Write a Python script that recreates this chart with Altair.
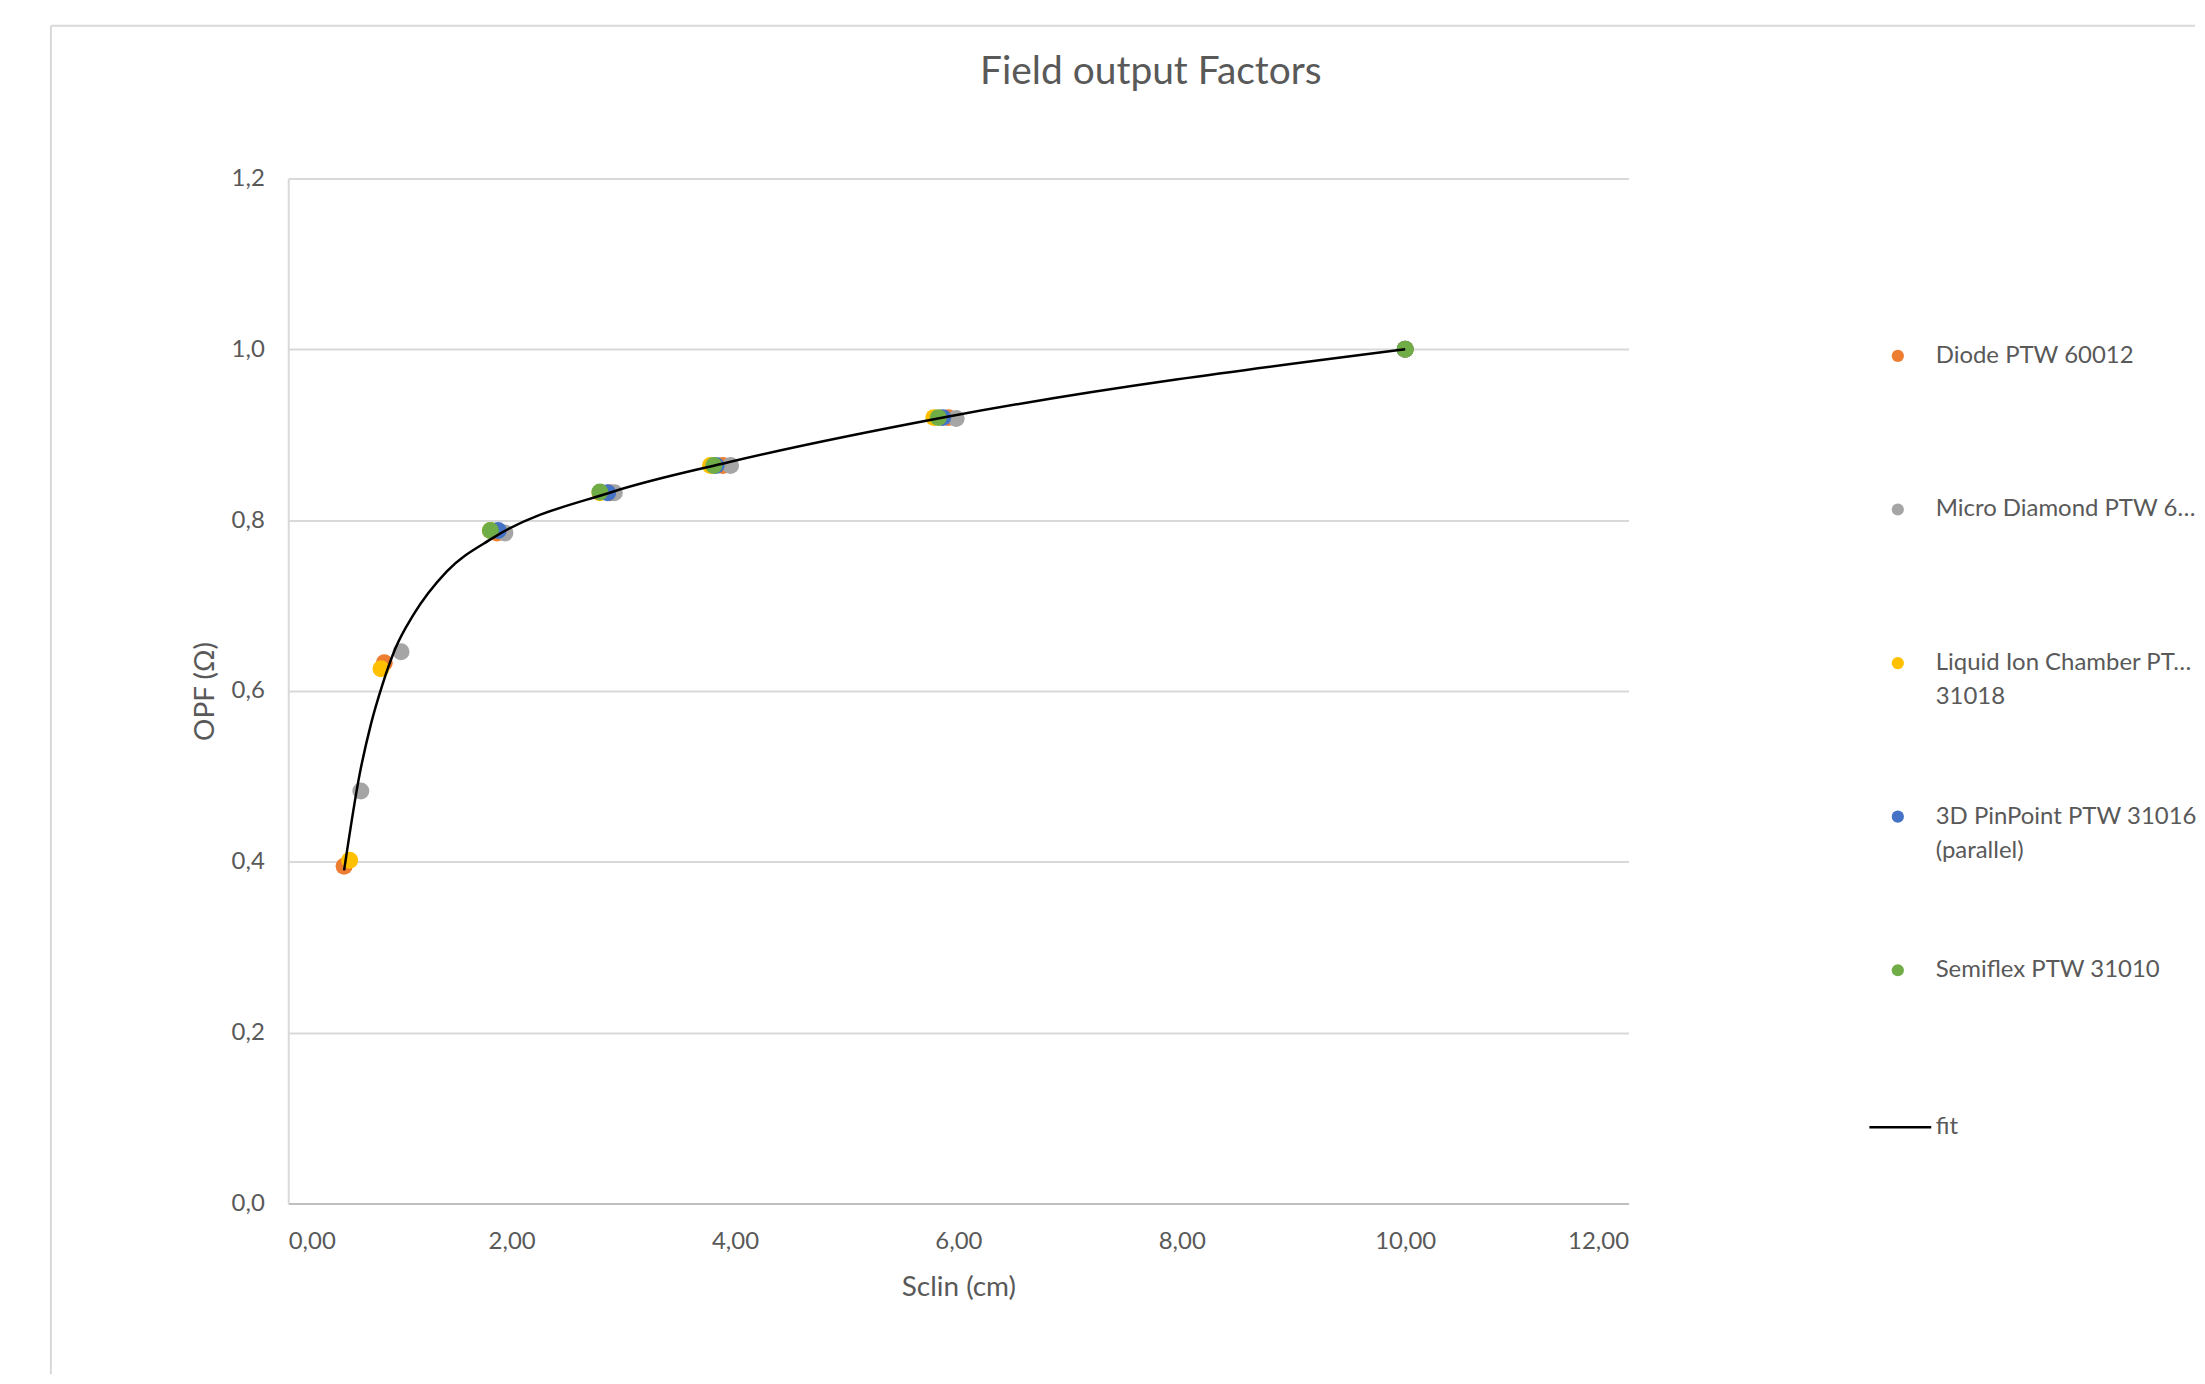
import altair as alt
import pandas as pd

# ---- data ----
series_names = [
    "Diode PTW 60012",
    "Micro Diamond PTW 60019",
    "Liquid Ion Chamber PTW 31018",
    "3D PinPoint PTW 31016 (parallel)",
    "Semiflex PTW 31010",
]
series_colors = ["#ED7D31", "#A5A5A5", "#FFC000", "#4472C4", "#70AD47"]

diode_x = [0.50, 0.86, 1.87, 2.88, 3.89, 5.91, 10.0]
diode_y = [0.395, 0.633, 0.785, 0.832, 0.864, 0.920, 1.0]

diamond_x = [0.65, 1.01, 1.94, 2.92, 3.96, 5.98, 10.0]
diamond_y = [0.483, 0.646, 0.785, 0.832, 0.864, 0.919, 1.0]

liquid_x = [0.55, 0.83, 1.81, 2.79, 3.78, 5.78, 10.0]
liquid_y = [0.402, 0.626, 0.788, 0.832, 0.864, 0.920, 1.0]

pinpoint_x = [1.88, 2.86, 3.83, 5.86, 10.0]
pinpoint_y = [0.788, 0.832, 0.864, 0.920, 1.0]

semiflex_x = [1.81, 2.79, 3.81, 5.82, 10.0]
semiflex_y = [0.788, 0.833, 0.864, 0.920, 1.0]

fit_x = [0.50, 0.64, 0.74, 0.84, 0.96, 1.12, 1.42, 1.83, 2.90, 3.95, 5.90, 10.0]
fit_y = [0.390, 0.503, 0.561, 0.606, 0.650, 0.689, 0.740, 0.779, 0.833, 0.868, 0.921, 1.0]

x_ticks = [0, 2, 4, 6, 8, 10, 12]
y_ticks = [0, 0.2, 0.4, 0.6, 0.8, 1.0, 1.2]

# ---- tables ----
rows = []
for name, xs, ys in zip(
    series_names,
    [diode_x, diamond_x, liquid_x, pinpoint_x, semiflex_x],
    [diode_y, diamond_y, liquid_y, pinpoint_y, semiflex_y],
):
    for xv, yv in zip(xs, ys):
        rows.append({"series": name, "x": xv, "y": yv})
points_df = pd.DataFrame(rows)
fit_df = pd.DataFrame({"series": "fit", "x": fit_x, "y": fit_y})

FONT = "Lato"
TXT = "#595959"

x_enc = alt.X(
    "x:Q",
    scale=alt.Scale(domain=[0, 12], nice=False),
    axis=alt.Axis(
        values=x_ticks,
        labelExpr="replace(format(datum.value, '.2f'), '.', ',')",
        title="Sclin (cm)",
        grid=False,
        ticks=False,
        domainColor="#bfbfbf",
        domainWidth=2,
        labelPadding=26,
        titlePadding=20,
    ),
)
y_enc = alt.Y(
    "y:Q",
    scale=alt.Scale(domain=[0, 1.2], nice=False),
    axis=alt.Axis(
        values=y_ticks,
        labelExpr="replace(format(datum.value, '.1f'), '.', ',')",
        title="OPF (Ω)",
        grid=True,
        gridColor="#d9d9d9",
        gridWidth=2,
        ticks=False,
        domainColor="#d9d9d9",
        domainWidth=2,
        labelPadding=24,
        titlePadding=12,
    ),
)

label_expr = (
    "datum.label == 'Liquid Ion Chamber PTW 31018' ? ['Liquid Ion Chamber PTW', '31018'] : "
    "datum.label == '3D PinPoint PTW 31016 (parallel)' ? ['3D PinPoint PTW 31016', '(parallel)'] : datum.label"
)

points = (
    alt.Chart(points_df)
    .mark_point(filled=True, size=290, opacity=1)
    .encode(
        x=x_enc,
        y=y_enc,
        color=alt.Color(
            "series:N",
            scale=alt.Scale(domain=series_names, range=series_colors),
            sort=series_names,
            legend=alt.Legend(
                title=None,
                orient="none",
                legendX=1602,
                legendY=166,
                padding=0,
                symbolType="circle",
                symbolSize=150,
                symbolStrokeWidth=0,
                symbolOpacity=1,
                labelFont=FONT,
                labelFontSize=24,
                labelColor=TXT,
                labelOffset=26,
                labelLimit=262,
                labelExpr=label_expr,
                gridAlign="all",
                rowPadding=96,
            ),
        ),
    )
)

line = (
    alt.Chart(fit_df)
    .mark_line(color="black", strokeWidth=2.5, interpolate="monotone")
    .encode(
        x="x:Q",
        y="y:Q",
        color=alt.Color(
            "series:N",
            scale=alt.Scale(domain=["fit"], range=["#000000"]),
            legend=alt.Legend(
                title=None,
                orient="none",
                legendX=1584,
                legendY=919,
                padding=0,
                symbolType="stroke",
                symbolSize=3844,
                symbolStrokeWidth=2.5,
                labelFont=FONT,
                labelFontSize=24,
                labelColor=TXT,
                labelOffset=3,
            ),
        ),
    )
)

# outer chart-area frame (decoration, like the spreadsheet chart border)
frame_src = alt.Data(values=[{}])
frame_left = alt.Chart(frame_src).mark_rule(color="#d9d9d9", strokeWidth=2).encode(
    x=alt.value(-238), y=alt.value(-153), y2=alt.value(1199)
)
frame_top = alt.Chart(frame_src).mark_rule(color="#d9d9d9", strokeWidth=2).encode(
    x=alt.value(-238), x2=alt.value(1912), y=alt.value(-153)
)

chart = (
    alt.layer(frame_left, frame_top, points, line)
    .resolve_scale(color="independent")
    .properties(
        width=1344,
        height=1028,
        padding={"left": 42, "top": 15, "right": 0, "bottom": 0},
        title=alt.Title(
            "Field output Factors",
            font=FONT,
            fontSize=39,
            fontWeight="normal",
            color=TXT,
            anchor="middle",
            frame="group",
            offset=0,
            baseline="middle",
            dx=193,
            dy=86,
        ),
    )
    .configure(style={"guide-label": {"lineHeight": 34}})
    .configure_view(stroke=None)
    .configure_axis(
        labelFont=FONT,
        labelFontSize=24,
        labelColor=TXT,
        titleFont=FONT,
        titleFontSize=28,
        titleFontWeight="normal",
        titleColor=TXT,
    )
)

chart.save("out.html", embed_options={"renderer": "svg", "actions": False})
